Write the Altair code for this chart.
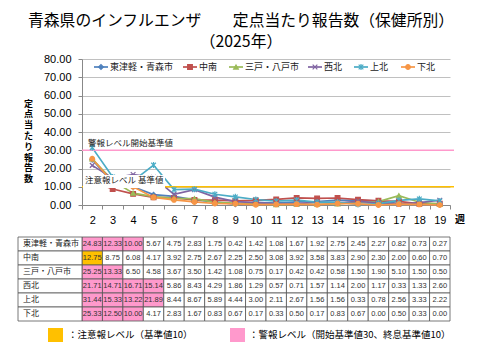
import altair as alt
import pandas as pd

weeks = list(range(2, 20))
regions = ["東津軽・青森市", "中南", "三戸・八戸市", "西北", "上北", "下北"]
v_aomori = [24.83, 12.33, 10.00, 5.67, 4.75, 2.83, 1.75, 0.42, 1.42, 1.08, 1.67, 1.92, 2.75, 2.45, 2.27, 0.82, 0.73, 0.27]
v_chunan = [12.75, 8.75, 6.08, 4.17, 3.92, 2.75, 2.67, 2.25, 2.50, 3.08, 3.92, 3.58, 3.83, 2.90, 2.30, 2.00, 0.60, 0.70]
v_hachinohe = [25.25, 13.33, 6.50, 4.58, 3.67, 3.50, 1.42, 1.08, 0.75, 0.17, 0.42, 0.42, 0.58, 1.50, 1.90, 5.10, 1.50, 0.50]
v_seihoku = [21.71, 14.71, 16.71, 15.14, 5.86, 8.43, 4.29, 1.86, 1.29, 0.57, 0.71, 1.57, 1.14, 2.00, 1.17, 0.33, 1.33, 2.60]
v_kamikita = [31.44, 15.33, 13.22, 21.89, 8.44, 8.67, 5.89, 4.44, 3.00, 2.11, 2.67, 1.56, 1.56, 0.33, 0.78, 2.56, 3.33, 2.22]
v_shimokita = [25.33, 12.50, 10.00, 4.17, 2.83, 1.67, 0.83, 0.67, 0.17, 0.33, 0.50, 0.17, 0.83, 0.67, 0.00, 0.50, 0.33, 0.00]
series_values = [v_aomori, v_chunan, v_hachinohe, v_seihoku, v_kamikita, v_shimokita]
alarm_cells = [3, 0, 2, 4, 4, 3]      # leading weeks shaded as 警報レベル
caution_cells = [0, 1, 0, 0, 0, 0]    # following weeks shaded as 注意報レベル
y_ticks = [0, 10, 20, 30, 40, 50, 60, 70, 80]
title_lines = ["青森県のインフルエンザ　　定点当たり報告数（保健所別）", "（2025年）"]

colors = ["#4F81BD", "#C0504D", "#9BBB59", "#8064A2", "#4BACC6", "#F79646"]
shapes = ["diamond", "square", "triangle-up",
          "M-1,-1L1,1M-1,1L1,-1",
          "M-1,-1L1,1M-1,1L1,-1M0,-1.3L0,1.3",
          "circle"]

JP = "Noto Sans CJK JP"
NUM = "Liberation Sans"

rows = []
for r, (name, vals) in enumerate(zip(regions, series_values)):
    for i, (w, v) in enumerate(zip(weeks, vals)):
        if i < alarm_cells[r]:
            st = "alarm"
        elif i < alarm_cells[r] + caution_cells[r]:
            st = "caution"
        else:
            st = "none"
        rows.append({"week": w, "region": name, "value": v,
                     "label": f"{v:.2f}", "status": st, "order": r})
df = pd.DataFrame(rows)

xscale = alt.Scale(type="band", domain=weeks, paddingInner=0, paddingOuter=0)
yscale = alt.Scale(domain=[0, 80], nice=False)
cscale = alt.Scale(domain=regions, range=colors)
sscale = alt.Scale(domain=regions, range=shapes)

y_axis = alt.Axis(values=y_ticks, format=".2f", labelFontSize=11, labelFont=NUM,
                  labelColor="#000", tickSize=4, labelPadding=7, labelOverlap=False,
                  domainColor="#888", tickColor="#888", gridColor="#c0c0c0", grid=True,
                  title=list("定点当たり報告数"), titleAngle=0, titleX=-54, titleY=44,
                  titleAlign="center", titleBaseline="middle", titleFont=JP,
                  titleFontSize=9, titleLineHeight=10.8, titleFontWeight="bold",
                  titleColor="#000")

x_top = alt.X("week:O", scale=xscale, bandPosition=0.5,
              axis=alt.Axis(title=None, labelAngle=0, labelFontSize=11, labelFont=NUM,
                            labelColor="#000", tickBand="extent", tickSize=4,
                            labelPadding=5, domainColor="#888", tickColor="#888", grid=False))
y_top = alt.Y("value:Q", scale=yscale, axis=y_axis)

base = alt.Chart(df)
lines = base.mark_line(strokeWidth=1.7).encode(
    x=x_top, y=y_top,
    color=alt.Color("region:N", scale=cscale, legend=None),
    order="week:O")
points = base.mark_point(filled=True, size=22, strokeWidth=1.2, opacity=1).encode(
    x=x_top, y=y_top,
    fill=alt.Fill("region:N", scale=cscale, legend=None),
    stroke=alt.Stroke("region:N", scale=cscale, legend=None),
    shape=alt.Shape("region:N", scale=sscale, legend=None))

one = alt.Data(values=[{}])


def ydat(v):
    return alt.YDatum(v, scale=yscale, axis=y_axis, type="quantitative")


alarm_rule = alt.Chart(one).mark_rule(color="#ff99cc", strokeWidth=1.6).encode(
    y=ydat(30), x=alt.value(0), x2=alt.value(372))
caution_rule = alt.Chart(one).mark_rule(color="#ffc000", strokeWidth=1.6).encode(
    y=ydat(10), x=alt.value(0), x2=alt.value(372))
alarm_text = alt.Chart(one).mark_text(align="left", baseline="middle", dy=-7, fontSize=8.5,
                                      font=JP, color="#222").encode(
    y=ydat(30), x=alt.value(6), text=alt.value("警報レベル開始基準値"))
caution_bg = alt.Chart(one).mark_rect(color="white").encode(
    x=alt.value(1), x2=alt.value(83), y=alt.value(116), y2=alt.value(129))
caution_text = alt.Chart(one).mark_text(align="left", baseline="middle", dy=-7, fontSize=8.5,
                                        font=JP, color="#222").encode(
    y=ydat(10), x=alt.value(3), text=alt.value("注意報レベル 基準値"))
week_text = alt.Chart(one).mark_text(align="left", baseline="middle", fontSize=10, font=JP,
                                     fontWeight="bold", color="#000").encode(
    x=alt.value(373), y=alt.value(161), text=alt.value("週"))

title1 = alt.Chart(one).mark_text(align="center", baseline="middle", fontSize=15.8, font=JP,
                                  color="#000").encode(
    x=alt.value(159), y=alt.value(-38), text=alt.value(title_lines[0]))
title2 = alt.Chart(one).mark_text(align="center", baseline="middle", fontSize=15.8, font=JP,
                                  color="#000").encode(
    x=alt.value(159), y=alt.value(-17), text=alt.value(title_lines[1]))

legend_x = [12, 101, 147, 226, 272, 319]
legend_layers = []
for name, lx, col, shp in zip(regions, legend_x, colors, shapes):
    legend_layers.append(alt.Chart(one).mark_rule(color=col, strokeWidth=1.7).encode(
        x=alt.value(lx), x2=alt.value(lx + 14), y=alt.value(8)))
    legend_layers.append(alt.Chart(one).mark_point(filled=True, size=22, strokeWidth=1.2,
                                                   fill=col, stroke=col, opacity=1).encode(
        x=alt.value(lx + 7), y=alt.value(8), shape=alt.value(shp)))
    legend_layers.append(alt.Chart(one).mark_text(align="left", baseline="middle", fontSize=9,
                                                  font=JP, color="#222").encode(
        x=alt.value(lx + 16), y=alt.value(8), text=alt.value(name)))

top = alt.layer(lines, alarm_rule, caution_rule, points, alarm_text, caution_bg, caution_text,
                week_text, title1, title2, *legend_layers).properties(width=368, height=146)

# ---- table ----
x_tab = alt.X("week:O", scale=xscale, axis=None)
y_tab = alt.Y("region:N", scale=alt.Scale(domain=regions, paddingInner=0, paddingOuter=0), axis=None)
tbase = alt.Chart(df).encode(x=x_tab, y=y_tab)
cells = tbase.mark_rect(stroke="#555", strokeWidth=0.8).encode(
    fill=alt.Fill("status:N", scale=alt.Scale(domain=["alarm", "caution", "none"],
                                              range=["#ff99cc", "#ffc000", "#ffffff"]), legend=None))
cell_text = tbase.mark_text(fontSize=7.5, font=NUM, color="#333").encode(text="label:N")

lab_df = pd.DataFrame({"region": regions})
lab_cells = alt.Chart(lab_df).mark_rect(fill="white", stroke="#555", strokeWidth=0.8).encode(
    y=y_tab, x=alt.value(-64), x2=alt.value(0))
lab_text = alt.Chart(lab_df).mark_text(align="left", fontSize=8, font=JP, color="#222").encode(
    y=y_tab, x=alt.value(-59), text="region:N")

sw_orange = alt.Chart(one).mark_rect(color="#ffc000").encode(
    x=alt.value(-34), x2=alt.value(-19), y=alt.value(91), y2=alt.value(105))
sw_orange_t = alt.Chart(one).mark_text(align="left", baseline="middle", fontSize=9.5, font=JP,
                                       color="#000").encode(
    x=alt.value(-14), y=alt.value(98), text=alt.value("：注意報レベル（基準値10）"))
sw_pink = alt.Chart(one).mark_rect(color="#ff99cc").encode(
    x=alt.value(148), x2=alt.value(163), y=alt.value(91), y2=alt.value(105))
sw_pink_t = alt.Chart(one).mark_text(align="left", baseline="middle", fontSize=9.5, font=JP,
                                     color="#000").encode(
    x=alt.value(167), y=alt.value(98), text=alt.value("：警報レベル（開始基準値30、終息基準値10）"))

table = alt.layer(cells, cell_text, lab_cells, lab_text, sw_orange, sw_orange_t, sw_pink,
                  sw_pink_t).properties(width=368, height=84)

chart = alt.vconcat(top, table, spacing=11).resolve_scale(
    fill="independent", color="independent", stroke="independent", shape="independent"
).properties(
    padding={"left": 9, "top": 5, "right": 4, "bottom": 4},
    background="white",
).configure_view(stroke=None)

chart.save("out.html", embed_options={"renderer": "svg", "actions": False})
